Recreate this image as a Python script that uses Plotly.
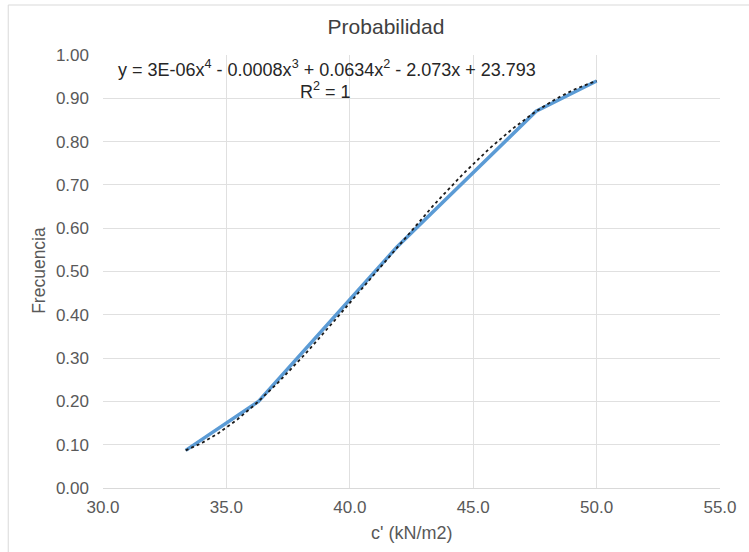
import numpy as np
import plotly.graph_objects as go

# Cohesión c' (kN/m2) y frecuencia acumulada
cohesion = [33.35, 36.3, 41.9, 47.55, 50.0]
frecuencia = [0.087, 0.200, 0.556, 0.870, 0.940]

x_ticks = [30.0, 35.0, 40.0, 45.0, 50.0, 55.0]
y_ticks = [0.0, 0.1, 0.2, 0.3, 0.4, 0.5, 0.6, 0.7, 0.8, 0.9, 1.0]

equation_text = "y = 3E-06x<sup>4</sup> - 0.0008x<sup>3</sup> + 0.0634x<sup>2</sup> - 2.073x + 23.793"
r2_text = "R<sup>2</sup> = 1"

# Polynomial (order 4) trendline through the series
coef = np.polyfit(cohesion, frecuencia, 4)
xs = np.linspace(min(cohesion), max(cohesion), 200)
ys = np.polyval(coef, xs)

font_family = "Liberation Sans, Arial, DejaVu Sans, sans-serif"
grey = "#595959"

W, H = 749, 552
L, R, T, B = 103, 21, 55, 64
plot_w = W - L - R
plot_h = H - T - B

fig = go.Figure()
fig.add_trace(go.Scatter(
    x=cohesion, y=frecuencia, mode="lines",
    line=dict(color="#5B9BD5", width=3.5),
    showlegend=False, hoverinfo="skip",
))
fig.add_trace(go.Scatter(
    x=xs, y=ys, mode="lines",
    line=dict(color="#1a1a1a", width=1.8, dash="dot"),
    showlegend=False, hoverinfo="skip",
))

fig.update_layout(
    width=W, height=H,
    margin=dict(l=L, r=R, t=T, b=B),
    paper_bgcolor="white", plot_bgcolor="white",
    font=dict(family=font_family, color=grey, size=17),
    title=dict(text="Probabilidad", x=386 / W, xanchor="center",
               y=1 - 27 / H, yanchor="middle",
               font=dict(size=21, color="#404040", family=font_family)),
    xaxis=dict(
        range=[30, 55], tickvals=x_ticks,
        ticktext=[f"{v:.1f}" for v in x_ticks],
        showgrid=True, gridcolor="#e0e0e0", gridwidth=1,
        zeroline=False, showline=True, linecolor="#d9d9d9", linewidth=1,
        ticks="", ticklabelstandoff=4, tickfont=dict(size=17, color=grey),
    ),
    yaxis=dict(
        range=[0, 1.0], tickvals=y_ticks,
        ticktext=[f"{v:.2f}" for v in y_ticks],
        showgrid=True, gridcolor="#e0e0e0", gridwidth=1,
        zeroline=False, showline=False,
        ticks="", ticklabelstandoff=13, tickfont=dict(size=17, color=grey),
    ),
    shapes=[
        dict(type="rect", xref="paper", yref="paper",
             x0=(7 - L) / plot_w, x1=(W + 20 - L) / plot_w,
             y0=-(B + 20) / plot_h, y1=1 + (T - 5) / plot_h,
             line=dict(color="#d9d9d9", width=1), fillcolor="rgba(0,0,0,0)",
             layer="below"),
    ],
    annotations=[
        dict(text="c' (kN/m2)", xref="paper", yref="paper",
             x=(415 - L) / plot_w, y=-(533 - (H - B)) / plot_h,
             showarrow=False, xanchor="center", yanchor="middle",
             font=dict(size=18, color=grey, family=font_family)),
        dict(text="Frecuencia", xref="paper", yref="paper",
             x=(38 - L) / plot_w, y=(H - B - 270) / plot_h, textangle=-90,
             showarrow=False, xanchor="center", yanchor="middle",
             font=dict(size=17.5, color=grey, family=font_family)),
        dict(text=equation_text, x=39.06, y=0.968, xref="x", yref="y",
             showarrow=False, xanchor="center", yanchor="middle",
             font=dict(size=18, color="#262626", family=font_family)),
        dict(text=r2_text, x=39.0, y=0.917, xref="x", yref="y",
             showarrow=False, xanchor="center", yanchor="middle",
             font=dict(size=18, color="#262626", family=font_family)),
    ],
)

fig.write_html("out.html")
